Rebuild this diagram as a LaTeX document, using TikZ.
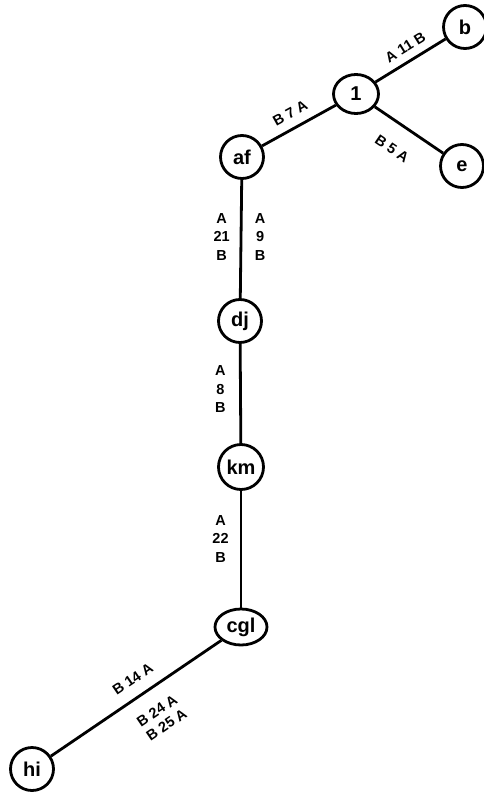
\documentclass[tikz,border=0pt]{standalone}
\usepackage{fontspec}
\setmainfont{Liberation Sans}
\usetikzlibrary{shapes.geometric}
\begin{document}
\begin{tikzpicture}[x=1pt,y=-1pt,
  vtx/.style={circle,draw,line width=2.8pt,minimum size=43pt,inner sep=0pt,font=\fontsize{20}{20}\selectfont\bfseries},
  ovl/.style={ellipse,draw,line width=2.8pt,inner sep=0pt,font=\fontsize{20}{20}\selectfont\bfseries},
  edge/.style={line width=2.8pt},
  lab/.style={font=\fontsize{14.5}{18.5}\selectfont\bfseries,inner sep=2pt,align=center}]
\useasboundingbox (0,0) rectangle (484,792);
\node[vtx] (b) at (465,27) {b};
\node[ovl,minimum width=45pt,minimum height=39pt] (n1) at (356,94) {1};
\node[vtx] (af) at (242,157) {af};
\node[vtx] (e) at (462,166) {e};
\node[vtx] (dj) at (240,321) {dj};
\node[vtx,minimum size=45pt] (km) at (241,467) {km};
\node[ovl,minimum width=52pt,minimum height=36pt] (cgl) at (241,627) {cgl};
\node[vtx] (hi) at (32,769) {hi};
\draw[edge] (n1) -- node[lab,sloped,above=5.5pt,pos=0.53] {A 11 B} (b);
\draw[edge] (af) -- node[lab,sloped,above=6.5pt,pos=0.48] {B 7 A} (n1);
\draw[edge] (n1) -- node[lab,sloped,below=17pt,pos=0.46] {B 5 A} (e);
\draw[edge] (af) -- node[lab,left=8pt,pos=0.48] {A\\21\\B} node[lab,right=10.5pt,pos=0.48] {A\\9\\B} (dj);
\draw[edge] (dj) -- node[lab,left=11.5pt,pos=0.455] {A\\8\\B} (km);
\draw[edge] (km) -- node[lab,left=9pt,pos=0.41] {A\\22\\B} (cgl);
\draw[edge] (hi) -- node[lab,sloped,above=9.5pt,pos=0.54] {B 14 A}
  node[lab,sloped,below=13.5pt,pos=0.55,font=\fontsize{14.5}{17}\selectfont\bfseries] {B 24 A\\B 25 A} (cgl);
\end{tikzpicture}
\end{document}
